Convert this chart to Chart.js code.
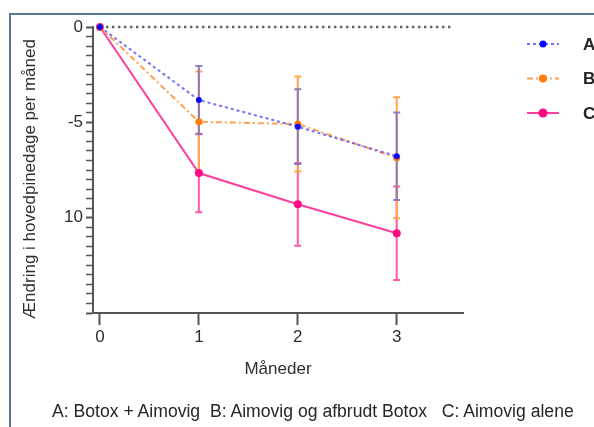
<!DOCTYPE html>
<html>
<head>
<meta charset="utf-8">
<script src="https://cdn.jsdelivr.net/npm/chart.js@4"></script>
<style>
  html, body { margin: 0; padding: 0; background: #fff; }
  #wrap { position: relative; width: 594px; height: 427px; overflow: hidden; font-family: "Liberation Sans", Arial, sans-serif; }
  #frame { position: absolute; left: 9px; top: 13px; width: 600px; height: 430px; border-top: 2px solid #5b7897; border-left: 2px solid #5b7897; }
  #myChart { position: absolute; left: 0; top: 0; }
  #caption { position: absolute; left: 52px; top: 401px; font-size: 17.6px; line-height: 20px; color: #262626; white-space: pre; }
</style>
</head>
<body>
<div id="wrap">
  <div id="frame"></div>
  <canvas id="myChart" width="594" height="427"></canvas>
  <div id="caption"></div>
</div>
<script>
// Data
const months = [0, 1, 2, 3];
const seriesNames = ['A', 'B', 'C'];
const meanA = [0, -3.83, -5.23, -6.78];
const errA  = [0, 1.79, 1.96, 2.29];
const meanB = [0, -4.97, -5.09, -6.86];
const errB  = [0, 2.63, 2.49, 3.17];
const meanC = [0, -7.66, -9.30, -10.82];
const errC  = [0, 2.06, 2.17, 2.45];
const refLineX = [0, 3.57];           // dotted zero line extent
const xTickValues = [0, 1, 2, 3];
const yTickLabels = { '0': '0', '-5': '-5', '-10': '10' };
const xTitle = 'Måneder';
const yTitle = 'Ændring i hovedpinedage per måned';
const captionText = 'A: Botox + Aimovig  B: Aimovig og afbrudt Botox   C: Aimovig alene';

document.getElementById('caption').textContent = captionText;

const FONT = '"Liberation Sans", Arial, sans-serif';
Chart.defaults.font.family = FONT;
Chart.defaults.color = '#2e2e2e';

const toPoints = (ys) => months.map((m, i) => ({ x: m, y: ys[i] }));

// error bars drawn under the lines, A on top
const errorBarPlugin = {
  id: 'errorBars',
  beforeDatasetsDraw(chart) {
    const ctx = chart.ctx;
    const xs = chart.scales.x, ys = chart.scales.y;
    for (let d = chart.data.datasets.length - 1; d >= 0; d--) {
      const ds = chart.data.datasets[d];
      if (!ds.errors) continue;
      ctx.save();
      ctx.strokeStyle = ds.errorColor;
      ctx.lineWidth = 2;
      ds.data.forEach((p, i) => {
        const e = ds.errors[i];
        if (!e) return;
        const px = xs.getPixelForValue(p.x);
        const top = ys.getPixelForValue(p.y + e);
        const bot = ys.getPixelForValue(p.y - e);
        ctx.beginPath();
        ctx.moveTo(px, top); ctx.lineTo(px, bot);
        ctx.moveTo(px - 3.5, top); ctx.lineTo(px + 3.5, top);
        ctx.moveTo(px - 3.5, bot); ctx.lineTo(px + 3.5, bot);
        ctx.stroke();
      });
      ctx.restore();
    }
  }
};

// legend on the right + rotated y title
const sideLegendPlugin = {
  id: 'sideLegend',
  afterDraw(chart) {
    const ctx = chart.ctx;
    let rowY = 44;
    chart.data.datasets.forEach(ds => {
      if (!ds.errors) return;
      ctx.save();
      ctx.strokeStyle = ds.borderColor;
      ctx.lineWidth = ds.borderWidth;
      ctx.setLineDash(ds.borderDash || []);
      ctx.beginPath();
      ctx.moveTo(527, rowY); ctx.lineTo(559, rowY);
      ctx.stroke();
      ctx.setLineDash([]);
      ctx.fillStyle = ds.pointBackgroundColor;
      ctx.beginPath();
      ctx.arc(543, rowY, ds.pointRadius + 0.5, 0, Math.PI * 2);
      ctx.fill();
      ctx.fillStyle = '#262626';
      ctx.font = 'bold 17px ' + FONT;
      ctx.textBaseline = 'middle';
      ctx.textAlign = 'left';
      ctx.fillText(ds.label, 583, rowY + 1);
      ctx.restore();
      rowY += 34.5;
    });

    ctx.save();
    ctx.translate(30, 179);
    ctx.rotate(-Math.PI / 2);
    ctx.fillStyle = '#2e2e2e';
    ctx.font = '17px ' + FONT;
    ctx.textAlign = 'center';
    ctx.textBaseline = 'middle';
    ctx.fillText(yTitle, 0, 0);
    ctx.restore();
  }
};

const ctx = document.getElementById('myChart').getContext('2d');
new Chart(ctx, {
  type: 'line',
  data: {
    datasets: [
      {
        label: seriesNames[0], data: toPoints(meanA), errors: errA, errorColor: 'rgba(138,116,184,0.95)',
        borderColor: 'rgba(90,90,255,0.85)', borderWidth: 2, borderDash: [3, 3],
        pointBackgroundColor: '#0a0aff', pointBorderColor: '#0a0aff', pointRadius: 3, pointBorderWidth: 0
      },
      {
        label: seriesNames[1], data: toPoints(meanB), errors: errB, errorColor: '#ffa64d',
        borderColor: 'rgba(255,150,60,0.9)', borderWidth: 2, borderDash: [6, 3, 2, 3],
        pointBackgroundColor: '#ff7a0a', pointBorderColor: '#ff7a0a', pointRadius: 3.5, pointBorderWidth: 0
      },
      {
        label: seriesNames[2], data: toPoints(meanC), errors: errC, errorColor: '#ff5aaa',
        borderColor: '#ff3f9e', borderWidth: 2,
        pointBackgroundColor: '#ff0a84', pointBorderColor: '#ff0a84', pointRadius: 4, pointBorderWidth: 0
      },
      {
        label: '', data: refLineX.map(v => ({ x: v, y: 0 })),
        borderColor: '#666', borderWidth: 2.5, borderDash: [2.5, 3.5], pointRadius: 0
      }
    ]
  },
  options: {
    responsive: false,
    animation: false,
    clip: false,
    layout: { padding: { left: 10, top: 27, right: 131, bottom: 44 } },
    plugins: { legend: { display: false }, tooltip: { enabled: false } },
    elements: { line: { tension: 0 } },
    scales: {
      x: {
        type: 'linear', min: -0.07, max: 3.67,
        afterBuildTicks: s => { s.ticks = xTickValues.map(v => ({ value: v })); },
        afterFit: s => { s.height = 70; },
        grid: { drawOnChartArea: false, drawTicks: true, tickLength: 12, tickColor: '#555', tickWidth: 2 },
        border: { display: true, color: '#555', width: 2 },
        ticks: { font: { size: 17 }, padding: 2, maxRotation: 0, autoSkip: false },
        title: { display: true, text: xTitle, font: { size: 17 }, padding: { top: 0, bottom: 3 } }
      },
      y: {
        type: 'linear', min: -15, max: 0,
        afterBuildTicks: s => {
          const t = [];
          for (let v = 0; v >= -15; v -= 0.5) t.push({ value: v });
          s.ticks = t;
        },
        afterFit: s => { s.width = 83; },
        grid: {
          drawOnChartArea: false, drawTicks: true, tickLength: 7, tickColor: '#555',
          tickWidth: c => (c.tick && c.tick.value % 5 === 0 ? 2 : 1.5)
        },
        border: { display: true, color: '#555', width: 2 },
        ticks: {
          autoSkip: false, font: { size: 17 }, padding: 3,
          callback: v => (yTickLabels[String(v)] !== undefined ? yTickLabels[String(v)] : '')
        }
      }
    }
  },
  plugins: [errorBarPlugin, sideLegendPlugin]
});
</script>
</body>
</html>
